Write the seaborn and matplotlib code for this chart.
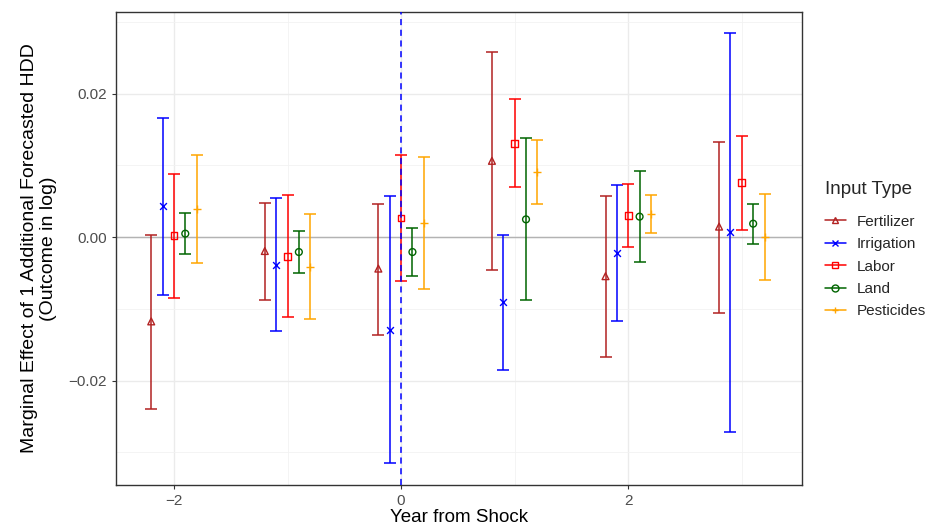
import numpy as np
import pandas as pd
import matplotlib
matplotlib.use("Agg")
import matplotlib.pyplot as plt
from matplotlib.lines import Line2D
from matplotlib.ticker import MultipleLocator
import seaborn as sns

years = [-2, -1, 0, 1, 2, 3]
inputs = ["Fertilizer", "Irrigation", "Labor", "Land", "Pesticides"]

est = {
    "Fertilizer": [-0.01176, -0.00195, -0.00440, 0.01062, -0.00546, 0.00145],
    "Irrigation": [0.00427, -0.00389, -0.01293, -0.00908, -0.00222, 0.00070],
    "Labor":      [0.00020, -0.00268, 0.00264, 0.01307, 0.00298, 0.00756],
    "Land":       [0.00047, -0.00209, -0.00209, 0.00246, 0.00284, 0.00186],
    "Pesticides": [0.00395, -0.00412, 0.00190, 0.00904, 0.00320, -0.00004],
}
lower = {
    "Fertilizer": [-0.02392, -0.00880, -0.01363, -0.00463, -0.01677, -0.01057],
    "Irrigation": [-0.00811, -0.01311, -0.03151, -0.01849, -0.01172, -0.02720],
    "Labor":      [-0.00843, -0.01121, -0.00612, 0.00695, -0.00143, 0.00097],
    "Land":       [-0.00240, -0.00505, -0.00542, -0.00880, -0.00348, -0.00097],
    "Pesticides": [-0.00356, -0.01144, -0.00731, 0.00455, 0.00061, -0.00598],
}
upper = {
    "Fertilizer": [0.00028, 0.00469, 0.00459, 0.02578, 0.00566, 0.01331],
    "Irrigation": [0.01664, 0.00542, 0.00566, 0.00028, 0.00728, 0.02850],
    "Labor":      [0.00872, 0.00580, 0.01150, 0.01919, 0.00737, 0.01414],
    "Land":       [0.00330, 0.00079, 0.00125, 0.01377, 0.00914, 0.00459],
    "Pesticides": [0.01150, 0.00325, 0.01112, 0.01354, 0.00584, 0.00603],
}

colors = {"Fertilizer": "#B22222", "Irrigation": "#0000FF", "Labor": "#FF0000",
          "Land": "#006400", "Pesticides": "#FFA500"}
markers = {"Fertilizer": "^", "Irrigation": "x", "Labor": "s", "Land": "o", "Pesticides": "+"}
offsets = {"Fertilizer": -0.2, "Irrigation": -0.1, "Labor": 0.0, "Land": 0.1, "Pesticides": 0.2}

rows = []
for k in inputs:
    for i, y in enumerate(years):
        rows.append(dict(year=y, input=k, x=y + offsets[k], est=est[k][i],
                         lo=lower[k][i], hi=upper[k][i]))
df = pd.DataFrame(rows)

sns.set_theme(style="white")
plt.rcParams["font.family"] = ["Liberation Sans", "DejaVu Sans"]

fig = plt.figure(figsize=(9.27, 5.27), dpi=100)
W, H = 927, 527
ax = fig.add_axes([116 / W, 1 - 485 / H, (802 - 116) / W, (485 - 12) / H])

ax.set_xlim(-2.51, 3.53)
ax.set_ylim(-0.03456, 0.03136)

# grid
ax.xaxis.set_major_locator(MultipleLocator(2))
ax.xaxis.set_minor_locator(MultipleLocator(1))
ax.yaxis.set_major_locator(MultipleLocator(0.02))
ax.yaxis.set_minor_locator(MultipleLocator(0.01))
ax.grid(True, which="major", color="#EBEBEB", lw=1.0, zorder=0)
ax.grid(True, which="minor", color="#F2F2F2", lw=0.6, zorder=0)
ax.set_axisbelow(True)

ax.axhline(0, color="#B3B3B3", lw=1.0, zorder=1)
ax.axvline(0, color="#0000FF", lw=1.1, ls=(0, (4, 3)), zorder=5)

for k in inputs:
    d = df[df["input"] == k]
    ax.errorbar(d["x"], d["est"], yerr=[d["est"] - d["lo"], d["hi"] - d["est"]],
                fmt="none", ecolor=colors[k], elinewidth=1.1, capsize=4.2, capthick=1.1, zorder=3)
    if markers[k] in ("^", "s", "o"):
        sns.scatterplot(data=d, x="x", y="est", marker=markers[k], s=24,
                        facecolors="none", edgecolor=colors[k], linewidth=1.0,
                        ax=ax, legend=False, zorder=4)
    else:
        sns.scatterplot(data=d, x="x", y="est", marker=markers[k],
                        s=24 if markers[k] == "x" else 40,
                        color=colors[k], linewidth=1.0,
                        ax=ax, legend=False, zorder=4)

ax.set_xticks([-2, 0, 2])
ax.set_xticklabels(["\u22122", "0", "2"])
ax.set_yticks([-0.02, 0.0, 0.02])
ax.set_yticklabels(["\u22120.02", "0.00", "0.02"])
ax.tick_params(axis="both", which="major", labelsize=11, labelcolor="#4D4D4D",
               length=3, color="#333333", width=0.8, bottom=True, left=True)
ax.tick_params(which="minor", length=0)
for s in ax.spines.values():
    s.set_color("#333333")
    s.set_linewidth(1.0)

ax.set_xlabel("Year from Shock", fontsize=13.5, color="black", labelpad=1)
ax.set_ylabel("Marginal Effect of 1 Additional Forecasted HDD\n(Outcome in log)",
              fontsize=14, color="black", labelpad=8, linespacing=1.2)

handles = []
for k in inputs:
    mfc = "none" if markers[k] in ("^", "s", "o") else colors[k]
    handles.append(Line2D([0], [0], color=colors[k], lw=1.1, marker=markers[k],
                          markersize=5, markerfacecolor=mfc, markeredgecolor=colors[k],
                          markeredgewidth=1.0))
leg = fig.legend(handles, inputs, title="Input Type", loc="upper left",
                 bbox_to_anchor=(819 / W, 1 - 175 / H), frameon=False,
                 fontsize=11, title_fontsize=13.5, handlelength=1.35,
                 handletextpad=0.7, labelspacing=0.55, borderaxespad=0)
leg._legend_box.align = "left"
leg._legend_box.sep = 12

fig.savefig("out.png", dpi=100)
